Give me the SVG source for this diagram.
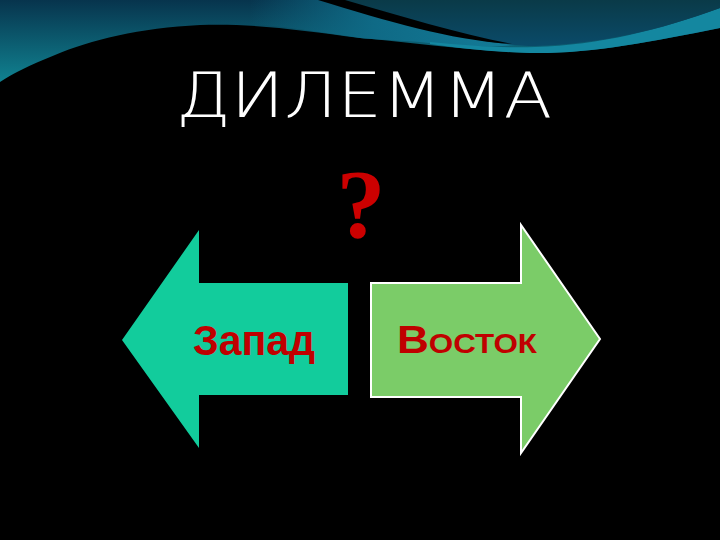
<svg xmlns="http://www.w3.org/2000/svg" width="720" height="540" viewBox="0 0 720 540">
  <defs>
    <linearGradient id="waveGrad" x1="0" y1="0" x2="0" y2="80" gradientUnits="userSpaceOnUse">
      <stop offset="0" stop-color="#07344d"/>
      <stop offset="1" stop-color="#10808f"/>
    </linearGradient>
    <linearGradient id="darkGrad" x1="0" y1="0" x2="0" y2="45" gradientUnits="userSpaceOnUse">
      <stop offset="0" stop-color="#0a3a48"/>
      <stop offset="1" stop-color="#0a4a68"/>
    </linearGradient>
    <linearGradient id="midGrad" x1="250" y1="0" x2="500" y2="0" gradientUnits="userSpaceOnUse">
      <stop offset="0" stop-color="#0f6a86" stop-opacity="0"/>
      <stop offset="0.5" stop-color="#0f6a86"/>
      <stop offset="1" stop-color="#137a96"/>
    </linearGradient>
    <style>
      .lbl { fill: #c00000; font-family: "Liberation Sans", "DejaVu Sans", sans-serif; font-weight: bold; }
    </style>
  </defs>
  <rect x="0" y="0" width="720" height="540" fill="#000"/>
  <g id="background">
    <path d="M0,0 L720,0 L720,28 C650,42 590,54 530,53 C470,51 420,43 360,38 C300,30 250,23 200,25 C140,28 90,40 55,55 C30,65 12,74 0,82 Z" fill="url(#waveGrad)"/>
    <path d="M250,0 L330,0 C390,20 450,38 515,45 C480,48 450,46 420,42 C390,40 370,39 360,38 C320,32 280,26 250,24 Z" fill="url(#midGrad)"/>
    <path d="M430,42 C470,46 505,48 535,47 C600,45 660,30 720,8 L720,28 C650,42 590,54 530,53 C490,52 460,48 430,44 Z" fill="#1487a0"/>
    <path d="M325,0 L720,0 L720,8 C660,30 600,44 535,46 C480,45 420,26 335,0 Z" fill="url(#darkGrad)"/>
    <path d="M318,0 L345,0 C400,16 460,34 512,44 C450,40 390,22 318,0 Z" fill="#000"/>
  </g>
  <g id="title">
    <text x="176" y="117" textLength="376" lengthAdjust="spacingAndGlyphs" font-family="'DejaVu Sans', 'Liberation Sans', sans-serif" font-weight="200" font-size="62" fill="#ffffff">ДИЛЕММА</text>
  </g>
  <g id="question">
    <text x="361" y="237" text-anchor="middle" font-family="'Liberation Serif', serif" font-weight="bold" font-size="98" fill="#cc0000">?</text>
  </g>
  <g id="west">
    <polygon points="122,340 199,230 199,283 348,283 348,395 199,395 199,448" fill="#12cc9c"/>
    <text class="lbl" x="193" y="355" font-size="42" textLength="122" lengthAdjust="spacingAndGlyphs">Запад</text>
  </g>
  <g id="east">
    <polygon points="371,283 521,283 521,225 600,339 521,453 521,397 371,397" fill="#7bcc68" stroke="#ffffff" stroke-width="2"/>
    <text class="lbl" x="397" y="353" font-size="38" font-variant="small-caps" textLength="140" lengthAdjust="spacingAndGlyphs">Восток</text>
  </g>
</svg>
